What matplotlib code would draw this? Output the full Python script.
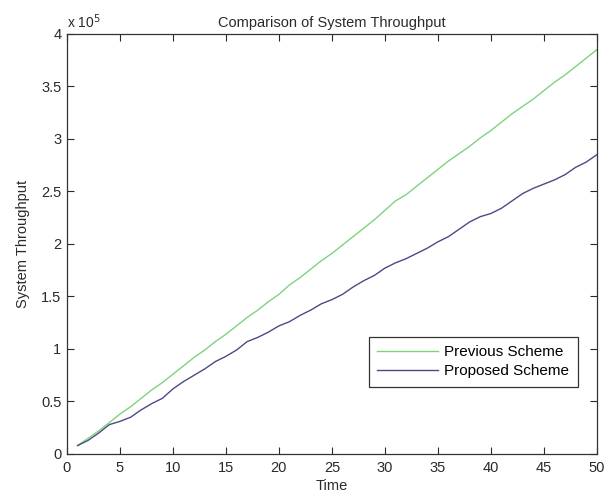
import matplotlib
matplotlib.use("Agg")
import matplotlib.pyplot as plt
from matplotlib.ticker import FuncFormatter, MultipleLocator

time = list(range(1, 51))
previous_scheme = [0.08, 0.15, 0.22, 0.30, 0.38, 0.45, 0.53, 0.61, 0.68, 0.76,
                   0.84, 0.92, 0.99, 1.07, 1.14, 1.22, 1.30, 1.37, 1.45, 1.52,
                   1.61, 1.68, 1.76, 1.84, 1.91, 1.99, 2.07, 2.15, 2.23, 2.32,
                   2.41, 2.47, 2.55, 2.63, 2.71, 2.79, 2.86, 2.93, 3.01, 3.08,
                   3.16, 3.24, 3.31, 3.38, 3.46, 3.54, 3.61, 3.69, 3.77, 3.85]
proposed_scheme = [0.08, 0.13, 0.20, 0.28, 0.31, 0.35, 0.42, 0.48, 0.53, 0.62,
                   0.69, 0.75, 0.81, 0.88, 0.93, 0.99, 1.07, 1.11, 1.16, 1.22,
                   1.26, 1.32, 1.37, 1.43, 1.47, 1.52, 1.59, 1.65, 1.70, 1.77,
                   1.82, 1.86, 1.91, 1.96, 2.02, 2.07, 2.14, 2.21, 2.26, 2.29,
                   2.34, 2.41, 2.48, 2.53, 2.57, 2.61, 2.66, 2.73, 2.78, 2.85]
scale = 1e5
previous_vals = [v * scale for v in previous_scheme]
proposed_vals = [v * scale for v in proposed_scheme]

plt.rcParams['font.family'] = ['Liberation Sans', 'DejaVu Sans']
txt = '#2a2a2a'

fig = plt.figure(figsize=(6.09, 4.98), dpi=100)
ax = fig.add_axes([0.110, 0.0884, 0.870, 0.8434])

ax.plot(time, previous_vals, color='#7fd37f', lw=1.0, label='Previous Scheme')
ax.plot(time, proposed_vals, color='#4b4a87', lw=1.0, label='Proposed Scheme')

ax.set_xlim(0, 50)
ax.set_ylim(0, 4e5)
ax.xaxis.set_major_locator(MultipleLocator(5))
ax.yaxis.set_major_locator(MultipleLocator(0.5e5))
ax.yaxis.set_major_formatter(FuncFormatter(lambda v, p: ('%g' % (v / scale))))

ax.tick_params(direction='in', length=5, width=0.8, top=True, right=True,
               labelsize=10.5, colors=txt)
ax.tick_params(axis='x', pad=5)
ax.tick_params(axis='y', pad=4)
for s in ax.spines.values():
    s.set_linewidth(0.9)
    s.set_color('#333333')

ax.text(0.0, 1.006, 'x 10$^{5}$', transform=ax.transAxes, fontsize=10,
        ha='left', va='bottom', color=txt)
ax.set_title('Comparison of System Throughput', fontsize=10.5, pad=5, color=txt)
ax.set_xlabel('Time', fontsize=10.5, labelpad=3, color=txt)
ax.set_ylabel('System Throughput', fontsize=10.5, labelpad=8, color=txt)

leg = ax.legend(loc='lower right', bbox_to_anchor=(0.964, 0.160), fontsize=11,
                fancybox=False, edgecolor='#333333', framealpha=1,
                handlelength=4.0, handletextpad=0.4, borderpad=0.55,
                labelspacing=0.35, borderaxespad=0)
leg.get_frame().set_linewidth(0.9)

fig.savefig('out.png', dpi=100)
